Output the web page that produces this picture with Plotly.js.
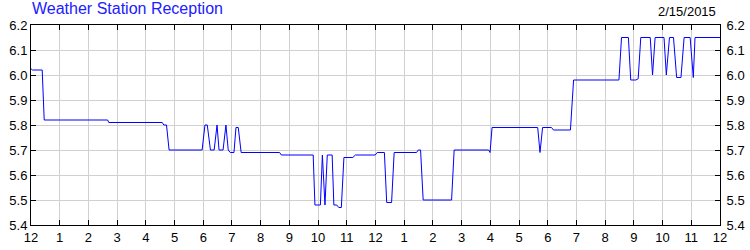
<!DOCTYPE html>
<html>
<head>
<meta charset="utf-8">
<script src="https://cdn.plot.ly/plotly-3.0.1.min.js"></script>
<style>html,body{margin:0;padding:0;background:#fff;}#chart{width:750px;height:250px;}</style>
</head>
<body>
<div id="chart"></div>
<script>
// Hours since midnight (12 AM) on the chart's day
const hours = [0, 0.05, 0.39, 0.46, 2.67, 2.71, 4.57, 4.63, 4.72, 4.81,
  5.96, 6.06, 6.14, 6.25, 6.38, 6.48, 6.55, 6.69, 6.79, 6.87,
  6.94, 7.07, 7.14, 7.22, 7.32, 8.66, 8.72, 9.83, 9.89, 10.08,
  10.15, 10.24, 10.32, 10.49, 10.55, 10.65, 10.72, 10.81, 10.90, 11.21,
  11.30, 11.99, 12.06, 12.31, 12.39, 12.56, 12.65, 13.43, 13.49, 13.57,
  13.66, 14.65, 14.74, 15.94, 15.99, 16.06, 17.65, 17.73, 17.82, 18.13,
  18.20, 18.79, 18.90, 20.48, 20.57, 20.81, 20.89, 21.07, 21.15, 21.24,
  21.57, 21.65, 21.74, 22.05, 22.13, 22.24, 22.38, 22.49, 22.64, 22.75,
  22.96, 23.07, 23.13, 24];
const reception = [6.025, 6.02, 6.02, 5.82, 5.82, 5.81, 5.81, 5.80, 5.80, 5.70,
  5.70, 5.80, 5.80, 5.70, 5.70, 5.80, 5.70, 5.70, 5.80, 5.70,
  5.69, 5.69, 5.79, 5.79, 5.69, 5.69, 5.68, 5.68, 5.48, 5.48,
  5.68, 5.48, 5.68, 5.68, 5.48, 5.48, 5.47, 5.47, 5.67, 5.67,
  5.68, 5.68, 5.69, 5.69, 5.49, 5.49, 5.69, 5.69, 5.70, 5.70,
  5.50, 5.50, 5.70, 5.70, 5.69, 5.79, 5.79, 5.69, 5.79, 5.79,
  5.78, 5.78, 5.98, 5.98, 6.15, 6.15, 5.98, 5.98, 5.985, 6.15,
  6.15, 6.00, 6.15, 6.15, 6.00, 6.15, 6.15, 5.99, 5.99, 6.15,
  6.15, 5.99, 6.15, 6.15];
const xTickVals = [0,1,2,3,4,5,6,7,8,9,10,11,12,13,14,15,16,17,18,19,20,21,22,23,24];
const xTickText = ['12','1','2','3','4','5','6','7','8','9','10','11','12','1','2','3','4','5','6','7','8','9','10','11','12'];
const yTickVals = [5.4, 5.5, 5.6, 5.7, 5.8, 5.9, 6.0, 6.1, 6.2];
const yTickText = ['5.4','5.5','5.6','5.7','5.8','5.9','6.0','6.1','6.2'];
const chartTitle = 'Weather Station Reception';
const dateLabel = '2/15/2015';

const font = {family: 'Liberation Sans, Arial, sans-serif', size: 13, color: '#000'};
const yCommon = {
  range: [5.4, 6.2], tickmode: 'array', tickvals: yTickVals, ticktext: yTickText,
  ticks: 'inside', ticklen: 5, tickcolor: '#000', showgrid: true, gridcolor: '#d0d0d0', gridwidth: 1,
  showline: true, linecolor: '#000', linewidth: 1, zeroline: false, tickfont: font, fixedrange: true
};
const data = [
  {x: hours, y: reception, type: 'scatter', mode: 'lines', line: {color: '#0000ff', width: 1}, hoverinfo: 'skip', showlegend: false},
  {x: hours, y: reception, type: 'scatter', mode: 'lines', yaxis: 'y2', line: {color: 'rgba(0,0,0,0)', width: 0}, hoverinfo: 'skip', showlegend: false}
];
const layout = {
  width: 750, height: 250,
  margin: {l: 31, r: 30, t: 25, b: 25},
  paper_bgcolor: '#fff', plot_bgcolor: '#fff',
  font: font,
  title: {text: chartTitle, x: 0, xref: 'paper', xanchor: 'left', y: 1, yref: 'container', yanchor: 'top', pad: {t: 3, l: 1},
    font: {family: 'Liberation Sans, Arial, sans-serif', size: 16, color: '#2020ff'}},
  xaxis: {range: [0, 24], tickmode: 'array', tickvals: xTickVals, ticktext: xTickText,
    ticks: 'inside', ticklen: 5, tickcolor: '#000', showgrid: true, gridcolor: '#d0d0d0', gridwidth: 1,
    showline: true, linecolor: '#000', linewidth: 1, mirror: 'ticks', zeroline: false, tickfont: font, fixedrange: true},
  yaxis: Object.assign({side: 'left'}, yCommon),
  yaxis2: Object.assign({side: 'right', overlaying: 'y', showgrid: false, ticklabelstandoff: 3}, yCommon),
  annotations: [{text: dateLabel, xref: 'paper', yref: 'paper', x: 1, y: 1, xanchor: 'right', yanchor: 'bottom', yshift: 4, xshift: -2,
    showarrow: false, font: {family: 'Liberation Sans, Arial, sans-serif', size: 13, color: '#000'}}]
};
Plotly.newPlot('chart', data, layout, {displayModeBar: false, staticPlot: true});
</script>
</body>
</html>
